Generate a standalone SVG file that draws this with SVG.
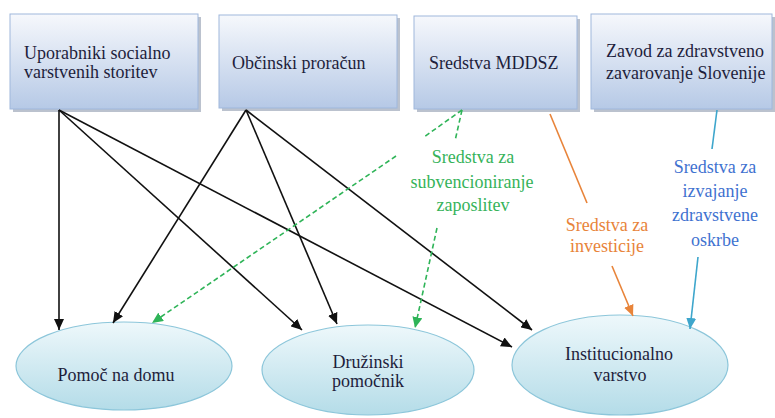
<svg xmlns="http://www.w3.org/2000/svg" width="775" height="418" viewBox="0 0 775 418">
<defs>
<linearGradient id="boxg" x1="0" y1="0" x2="0" y2="1">
<stop offset="0" stop-color="#f6f8fc"/>
<stop offset="1" stop-color="#b6c9e6"/>
</linearGradient>
<linearGradient id="ellg" x1="0" y1="0" x2="0" y2="1">
<stop offset="0" stop-color="#eef8fb"/>
<stop offset="1" stop-color="#b4dce8"/>
</linearGradient>
<marker id="ab" markerUnits="userSpaceOnUse" markerWidth="12" markerHeight="10" refX="11" refY="5" orient="auto">
<path d="M0,0 L11,5 L0,10 Z" fill="#111"/>
</marker>
<marker id="ag" markerUnits="userSpaceOnUse" markerWidth="12" markerHeight="10" refX="11" refY="5" orient="auto">
<path d="M0,0 L11,5 L0,10 Z" fill="#2fb458"/>
</marker>
<marker id="ao" markerUnits="userSpaceOnUse" markerWidth="12" markerHeight="10" refX="11" refY="5" orient="auto">
<path d="M0,0 L11,5 L0,10 Z" fill="#e8843a"/>
</marker>
<marker id="al" markerUnits="userSpaceOnUse" markerWidth="12" markerHeight="10" refX="11" refY="5" orient="auto">
<path d="M0,0 L11,5 L0,10 Z" fill="#3ea6cc"/>
</marker>
</defs>
<style>
.box{fill:url(#boxg);stroke:#9fb7dc;stroke-width:1}
.sh{fill:#8e9aad;opacity:0.6}
.ell{fill:url(#ellg);stroke:#8cc6da;stroke-width:1.2}
text{font-family:'Liberation Serif','DejaVu Serif','Times New Roman',serif;font-size:18px;fill:#1e1e3c}
.c{text-anchor:middle}
.blk{stroke:#111;stroke-width:1.6;fill:none;marker-end:url(#ab)}
.grn{stroke:#2fb458;stroke-width:1.6;fill:none;stroke-dasharray:5,3}
.org{stroke:#e8843a;stroke-width:1.6;fill:none}
.blu{stroke:#3ea6cc;stroke-width:1.6;fill:none}
.lg{fill:#36b35a}
.lo{fill:#e8843a}
.lb{fill:#3f72d0}
</style>

<g id="node-uporabniki">
<rect class="sh" x="13" y="17" width="188" height="95"/>
<rect class="box" x="10" y="14" width="188" height="95"/>
<text x="24" y="59" font-family="Liberation Serif, serif">Uporabniki socialno</text>
<text x="24" y="78" font-family="Liberation Serif, serif">varstvenih storitev</text>
</g>
<g id="node-obcinski">
<rect class="sh" x="222" y="18" width="178" height="93"/>
<rect class="box" x="219" y="15" width="178" height="93"/>
<text x="232" y="69">Občinski proračun</text>
</g>
<g id="node-mddsz">
<rect class="sh" x="417" y="19" width="163" height="93"/>
<rect class="box" x="414" y="16" width="163" height="93"/>
<text x="429" y="69">Sredstva MDDSZ</text>
</g>
<g id="node-zzzs">
<rect class="sh" x="594" y="17" width="181" height="95"/>
<rect class="box" x="591" y="14" width="181" height="95"/>
<text x="606" y="57">Zavod za zdravstveno</text>
<text x="606" y="79">zavarovanje Slovenije</text>
</g>

<g id="node-pomoc">
<ellipse class="ell" cx="124" cy="366" rx="108" ry="44"/>
<text class="c" x="116" y="381">Pomoč na domu</text>
</g>
<g id="node-druzinski">
<ellipse class="ell" cx="368" cy="370" rx="106" ry="45"/>
<text class="c" x="368" y="368">Družinski</text>
<text class="c" x="368" y="387">pomočnik</text>
</g>
<g id="node-institucionalno">
<ellipse class="ell" cx="620" cy="365" rx="108" ry="50"/>
<text class="c" x="619" y="360">Institucionalno</text>
<text class="c" x="620" y="381">varstvo</text>
</g>

<g id="connectors">
<line class="blk" x1="59" y1="110" x2="59" y2="330"/>
<line class="blk" x1="59" y1="110" x2="302" y2="330"/>
<line class="blk" x1="59" y1="110" x2="512" y2="347"/>
<line class="blk" x1="246" y1="110" x2="113" y2="323"/>
<line class="blk" x1="246" y1="110" x2="337" y2="324"/>
<line class="blk" x1="246" y1="110" x2="532" y2="330"/>
<line class="grn" x1="462" y1="110" x2="424" y2="137"/>
<line class="grn" x1="396" y1="156" x2="152" y2="323" style="marker-end:url(#ag)"/>
<line class="grn" x1="462" y1="110" x2="455" y2="141"/>
<line class="grn" x1="437" y1="228" x2="415" y2="328" style="marker-end:url(#ag)"/>
<line class="org" x1="550" y1="114" x2="587" y2="203"/>
<line class="org" x1="612" y1="266" x2="633" y2="316" style="marker-end:url(#ao)"/>
<line class="blu" x1="717" y1="110" x2="712" y2="149"/>
<line class="blu" x1="698" y1="257" x2="690" y2="329" style="marker-end:url(#al)"/>
</g>

<g id="labels">
<text class="c lg" x="473" y="163">Sredstva za</text>
<text class="c lg" x="472" y="188">subvencioniranje</text>
<text class="c lg" x="473" y="211">zaposlitev</text>
<text class="c lo" x="607" y="231">Sredstva za</text>
<text class="c lo" x="607" y="252">investicije</text>
<text class="c lb" x="715" y="173">Sredstva za</text>
<text class="c lb" x="715" y="197">izvajanje</text>
<text class="c lb" x="715" y="221">zdravstvene</text>
<text class="c lb" x="715" y="246">oskrbe</text>
</g>
</svg>
